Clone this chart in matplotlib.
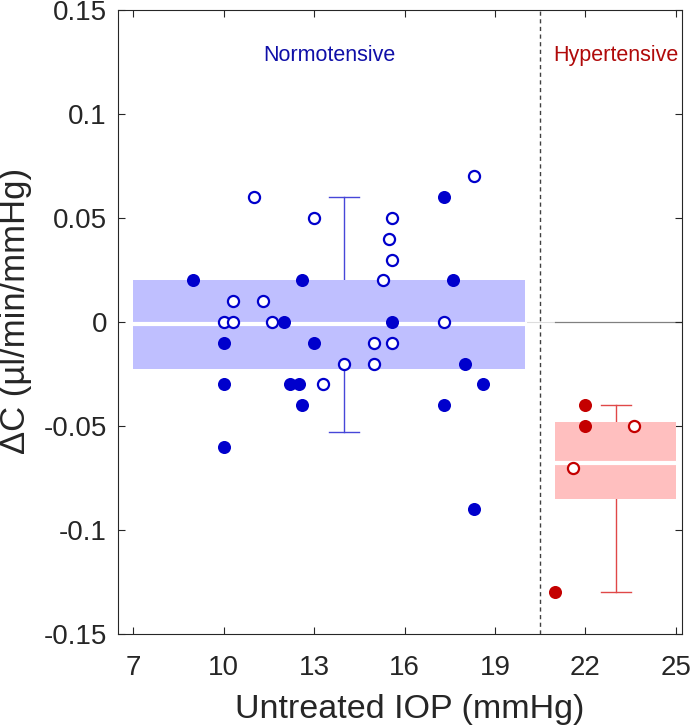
import numpy as np
import matplotlib.pyplot as plt

plt.rcParams['font.family'] = ['Liberation Sans', 'DejaVu Sans']

# ── data ───────────────────────────────────────────────────────────────────────
# normotensive eyes: filled / open markers
norm_fill_x = [9, 12, 10, 10, 10, 17.3, 12.6, 17.6, 15.6, 13, 18, 12.2, 12.5, 18.6, 12.6, 17.3, 18.3]
norm_fill_y = [0.02, 0, -0.01, -0.03, -0.06, 0.06, 0.02, 0.02, 0, -0.01, -0.02, -0.03, -0.03, -0.03, -0.04, -0.04, -0.09]
norm_open_x = [11, 10.3, 11.3, 10, 10.3, 11.6, 18.3, 13, 15.6, 15.5, 15.6, 15.3, 17.3, 15, 15.6, 14, 15, 13.3]
norm_open_y = [0.06, 0.01, 0.01, 0, 0, 0, 0.07, 0.05, 0.05, 0.04, 0.03, 0.02, 0, -0.01, -0.01, -0.02, -0.02, -0.03]

# hypertensive eyes
hyp_fill_x = [22, 22, 21]
hyp_fill_y = [-0.04, -0.05, -0.13]
hyp_open_x = [23.6, 21.6]
hyp_open_y = [-0.05, -0.07]

# summary boxes: x-range, lower / upper edge, median
norm_box_x = (7, 20)
norm_box_y = (-0.0225, 0.02)
norm_median = -0.0012
hyp_box_x = (21, 25)
hyp_box_y = (-0.085, -0.048)
hyp_median = -0.068

# range whiskers: x position, min, max
norm_whisk = (14, -0.053, 0.06)
hyp_whisk = (23, -0.13, -0.04)

split_iop = 20.5

BLUE = "#0000CC"
RED = "#C40000"

fig = plt.figure(figsize=(6.93, 7.27), dpi=100)
ax = fig.add_axes([118 / 693, 1 - 634 / 727, (682 - 118) / 693, (634 - 10) / 727])

# zero reference line (right part)
ax.plot([20, 21], [0, 0], color="#dddddd", lw=0.8, zorder=1)
ax.plot([21, 25.2], [0, 0], color="#808080", lw=0.9, zorder=1)

# whiskers (behind boxes)
for (wx, lo, hi), c in [(norm_whisk, "#4646D8"), (hyp_whisk, "#E04848")]:
    ax.plot([wx, wx], [lo, hi], color=c, lw=1.0, zorder=2)
    ax.plot([wx - 0.5, wx + 0.5], [hi, hi], color=c, lw=1.0, zorder=2)
    ax.plot([wx - 0.5, wx + 0.5], [lo, lo], color=c, lw=1.0, zorder=2)

# boxes
for (bx, by, med, fc) in [(norm_box_x, norm_box_y, norm_median, "#BFBFFF"),
                          (hyp_box_x, hyp_box_y, hyp_median, "#FFBFBF")]:
    ax.bar(bx[0], by[1] - by[0], bottom=by[0], width=bx[1] - bx[0],
           align="edge", color=fc, lw=0, zorder=3)
    ax.plot([bx[0], bx[1]], [med, med], color="white", lw=3.0, zorder=4)

# split line
ax.axvline(split_iop, color="#404040", lw=1.0, ls=(0, (3, 2.5)), zorder=2)

# points
ax.plot(norm_fill_x, norm_fill_y, "o", color=BLUE, ms=9.4, mew=0, zorder=5)
ax.plot(norm_open_x, norm_open_y, "o", mfc="white", mec=BLUE, ms=8.0, mew=1.6, zorder=5)
ax.plot(hyp_fill_x, hyp_fill_y, "o", color=RED, ms=9.4, mew=0, zorder=5)
ax.plot(hyp_open_x, hyp_open_y, "o", mfc="white", mec=RED, ms=8.0, mew=1.6, zorder=5)

ax.text(np.mean(norm_box_x), 0.1255, "Normotensive", color="#1010A8",
        fontsize=15.5, ha="center", va="baseline")
ax.text(np.mean(hyp_box_x), 0.1255, "Hypertensive", color="#B00A0A",
        fontsize=15.5, ha="center", va="baseline")

ax.set_xlim(6.5, 25.2)
ax.set_ylim(-0.15, 0.15)
ax.set_xticks([7, 10, 13, 16, 19, 22, 25])
ax.set_yticks([-0.15, -0.1, -0.05, 0, 0.05, 0.1, 0.15])
ax.set_yticklabels(["-0.15", "-0.1", "-0.05", "0", "0.05", "0.1", "0.15"])

ax.tick_params(direction="in", length=5, width=0.8, color="#262626",
               labelsize=20, labelcolor="#262626", top=True, right=True)
ax.tick_params(axis="x", pad=15)
ax.tick_params(axis="y", pad=8)
for s in ax.spines.values():
    s.set_color("#262626")
    s.set_linewidth(0.8)

ax.set_xlabel("Untreated IOP (mmHg)", fontsize=24.5, color="#262626")
ax.set_ylabel("ΔC (µl/min/mmHg)", fontsize=25, color="#262626")
ax.xaxis.set_label_coords(0.518, -0.096)
ax.yaxis.set_label_coords(-0.1525, 0.518)

fig.savefig("out.png", dpi=100)
